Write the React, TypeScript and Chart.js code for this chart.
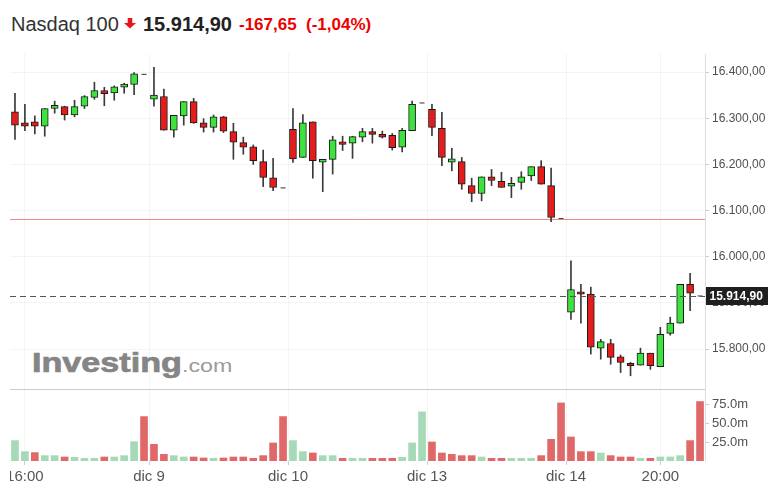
import React, { useEffect, useRef } from 'react';
import { Chart, registerables } from 'chart.js';

Chart.register(...registerables);

// ---- data (30-minute candles, index 0..69) ----
const opens = [16314, 16290, 16292, 16283, 16321, 16325, 16307, 16326, 16345, 16360, 16355, 16367, 16373, 16395,
  16341, 16347, 16274, 16305, 16336, 16290, 16280, 16303, 16271, 16247, 16238, 16206, 16171, 16149,
  16276, 16215, 16292, 16205, 16211, 16249, 16246, 16259, 16271, 16265, 16263, 16237, 16273, 16333,
  16319, 16278, 16205, 16206, 16154, 16137, 16173, 16163, 16153, 16161, 16175, 16195, 16154, 16082.55,
  15880, 15924, 15919, 15802, 15812, 15783, 15769, 15765, 15791, 15762, 15834, 15856, 15940, 15914.9];
const highs = [16354, 16330, 16305, 16321, 16337, 16326, 16339, 16349, 16378, 16367, 16370, 16376, 16399, 16395,
  16410, 16363, 16306, 16336, 16343, 16299, 16307, 16304, 16289, 16259, 16242, 16231, 16213, 16149,
  16321, 16308, 16292, 16211, 16261, 16261, 16261, 16278, 16278, 16272, 16267, 16278, 16337, 16333,
  16330, 16313, 16235, 16215, 16170, 16173, 16189, 16183, 16172, 16184, 16195, 16208, 16192, 16082.55,
  15991, 15940, 15934, 15821, 15821, 15787, 15771, 15802, 15791, 15847, 15869, 15940, 15964, 15914.9];
const lows = [16254, 16273, 16266, 16261, 16311, 16296, 16303, 16321, 16341, 16327, 16339, 16354, 16351, 16395,
  16326, 16274, 16259, 16285, 16289, 16270, 16270, 16269, 16211, 16222, 16200, 16152, 16143, 16149,
  16204, 16215, 16170, 16141, 16179, 16230, 16213, 16249, 16246, 16257, 16231, 16227, 16273, 16333,
  16262, 16197, 16186, 16146, 16119, 16121, 16154, 16150, 16128, 16146, 16165, 16157, 16076, 16082.55,
  15864, 15856, 15789, 15778, 15767, 15749, 15742, 15765, 15756, 15762, 15830, 15856, 15883, 15914.9];
const closes = [16285, 16283, 16283, 16321, 16328, 16307, 16325, 16347, 16360, 16353, 16368, 16374, 16396, 16395,
  16350, 16274, 16306, 16336, 16290, 16280, 16303, 16272, 16248, 16237, 16208, 16172, 16150, 16149,
  16212, 16290, 16208, 16211, 16253, 16243, 16260, 16271, 16265, 16259, 16236, 16274, 16330, 16333,
  16280, 16215, 16212, 16157, 16137, 16173, 16165, 16150, 16159, 16173, 16195, 16157, 16085, 16082.55,
  15929, 15919, 15804, 15816, 15782, 15771, 15764, 15791, 15764, 15832, 15856, 15940, 15921, 15914.9];
// volume in millions
const volumes = [27.0, 12.4, 11.1, 7.1, 7.1, 5.3, 4.9, 3.5, 3.5, 5.3, 5.3, 7.1, 25.6, 58.8,
  22.1, 8.8, 7.1, 5.3, 5.3, 4.0, 3.5, 4.0, 5.3, 5.3, 3.5, 7.1, 23.9, 58.8,
  27.0, 12.4, 10.6, 7.1, 7.1, 3.5, 3.5, 3.5, 3.5, 3.5, 3.5, 4.9, 23.9, 65.0,
  25.2, 10.6, 8.8, 7.1, 7.1, 5.3, 3.5, 3.5, 3.5, 3.5, 3.5, 7.1, 28.7, 76.9,
  31.8, 12.4, 12.4, 10.6, 7.1, 5.3, 5.3, 3.5, 3.5, 5.3, 5.3, 7.1, 27.0, 78.7];
const volumeUp = [1, 1, 0, 1, 1, 0, 1, 1, 1, 0, 1, 1, 1, 0,
  0, 0, 1, 1, 0, 0, 1, 0, 0, 0, 0, 0, 0, 0,
  1, 1, 0, 1, 1, 0, 1, 1, 0, 0, 0, 1, 1, 1,
  0, 0, 0, 0, 0, 1, 0, 0, 1, 1, 1, 0, 0, 0,
  0, 0, 0, 1, 0, 0, 0, 1, 0, 1, 1, 1, 0, 0];
const timeTickIndex = [1, 13.5, 27.5, 41.5, 55.5, 65];
const timeTickLabels = ['16:00', 'dic 9', 'dic 10', 'dic 13', 'dic 14', '20:00'];
const priceTicks = [15800, 15900, 16000, 16100, 16200, 16300, 16400];
const volumeTicks = [25, 50, 75];
const instrument = 'Nasdaq 100';
const lastPrice = 15914.9;
const prevClose = 16082.55;

const FONT = "'Liberation Sans', Arial, Helvetica, sans-serif";
const RED = '#e41c1c';
const GREEN = '#3ee23e';
const VOL_RED = '#e06868';
const VOL_GREEN = '#a5d9b7';
const FAINT = 'rgba(0,0,0,0.045)';

function fmtNum(v: number, d: number) {
  const neg = v < 0;
  const s = Math.abs(v).toFixed(d);
  const [int, dec] = s.split('.');
  const dotted = int.replace(/\B(?=(\d{3})+(?!\d))/g, '.');
  return (neg ? '-' : '') + dotted + (dec ? ',' + dec : '');
}

const N = closes.length;
const isDash = (i: number) => opens[i] === closes[i] && highs[i] === lows[i];

export default function App() {
  const priceRef = useRef<HTMLCanvasElement | null>(null);
  const volRef = useRef<HTMLCanvasElement | null>(null);

  useEffect(() => {
    Chart.defaults.font.family = FONT;
    const xCommon = {
      type: 'linear' as const,
      min: -0.5,
      max: N - 0.5,
      offset: false,
      afterBuildTicks: (s: any) => { s.ticks = timeTickIndex.map((v) => ({ value: v })); },
    };

    const overlay = {
      id: 'overlay',
      beforeDatasetsDraw(chart: any) {
        const { ctx, chartArea, scales } = chart;
        const y = Math.round(scales.y.getPixelForValue(prevClose)) + 0.5;
        ctx.save();
        ctx.strokeStyle = '#f08a8a';
        ctx.lineWidth = 1;
        ctx.beginPath();
        ctx.moveTo(chartArea.left, y);
        ctx.lineTo(chartArea.right, y);
        ctx.stroke();
        ctx.restore();
      },
      afterDatasetsDraw(chart: any) {
        const { ctx, chartArea, scales } = chart;
        const y = Math.round(scales.y.getPixelForValue(lastPrice)) + 0.5;
        ctx.save();
        ctx.strokeStyle = '#555';
        ctx.lineWidth = 1;
        ctx.setLineDash([6, 4]);
        ctx.beginPath();
        ctx.moveTo(chartArea.left, y);
        ctx.lineTo(chartArea.right, y);
        ctx.stroke();
        ctx.restore();
      },
      afterDraw(chart: any) {
        const { ctx, chartArea, scales } = chart;
        const y = Math.round(scales.y.getPixelForValue(lastPrice));
        ctx.save();
        ctx.fillStyle = '#1f1f1f';
        ctx.fillRect(chartArea.right + 1, y - 9, 62, 18);
        ctx.fillStyle = '#fff';
        ctx.font = `bold 12px ${FONT}`;
        ctx.textBaseline = 'middle';
        ctx.textAlign = 'left';
        ctx.fillText(fmtNum(lastPrice, 2), chartArea.right + 4.5, y + 0.5);
        ctx.restore();
      },
    };

    const bodies = opens.map((o, i) => ({ x: i, y: isDash(i) ? null : [o, closes[i]] }));
    const wicks = lows.map((l, i) => ({ x: i, y: isDash(i) ? null : [l, highs[i]] }));
    const dashes = closes.map((c, i) => ({ x: i, y: isDash(i) ? c : null }));

    const price = new Chart(priceRef.current as HTMLCanvasElement, {
      type: 'bar',
      data: {
        datasets: [
          {
            type: 'bar',
            data: bodies as any,
            backgroundColor: opens.map((o, i) => (closes[i] >= o ? GREEN : RED)),
            borderColor: '#1a1a1a',
            borderWidth: 1,
            borderSkipped: false,
            barThickness: 7,
            grouped: false,
            order: 0,
          } as any,
          {
            type: 'bar',
            data: wicks as any,
            backgroundColor: '#3a3a3a',
            borderWidth: 0,
            barThickness: 1,
            grouped: false,
            order: 1,
          } as any,
          {
            type: 'line',
            data: dashes as any,
            showLine: false,
            pointStyle: 'line',
            pointRadius: 2.5,
            pointHoverRadius: 2.5,
            pointBorderColor: '#333',
            pointBorderWidth: 1,
            order: 2,
          } as any,
        ],
      },
      options: {
        responsive: false,
        animation: false,
        events: [],
        layout: { padding: 0, autoPadding: false },
        plugins: { legend: { display: false }, tooltip: { enabled: false } },
        scales: {
          x: {
            ...xCommon,
            ticks: { display: false },
            grid: { color: FAINT, drawTicks: false, offset: false },
            border: { display: true, color: '#cccccc' },
            afterFit: (s: any) => { s.height = 1; s.paddingLeft = 0; s.paddingRight = 0; },
          } as any,
          y: {
            position: 'right',
            min: 15713.4,
            max: 16439.1,
            afterBuildTicks: (s: any) => { s.ticks = priceTicks.map((v) => ({ value: v })); },
            ticks: {
              callback: (v: any) => fmtNum(Number(v), 2),
              font: { size: 12, family: FONT },
              color: '#505050',
              padding: 3,
            },
            grid: { color: FAINT, tickColor: '#cccccc', tickLength: 4 },
            border: { display: true, color: '#dddddd' },
            afterFit: (s: any) => { s.width = 77; s.paddingTop = 0; s.paddingBottom = 0; },
          } as any,
        },
      },
      plugins: [overlay],
    });

    const vol = new Chart(volRef.current as HTMLCanvasElement, {
      type: 'bar',
      data: {
        datasets: [
          {
            data: volumes.map((v, i) => ({ x: i, y: v })) as any,
            backgroundColor: volumeUp.map((u) => (u ? VOL_GREEN : VOL_RED)),
            borderWidth: 0,
            barThickness: 7,
          },
        ],
      },
      options: {
        responsive: false,
        animation: false,
        events: [],
        layout: { padding: 0, autoPadding: false },
        plugins: { legend: { display: false }, tooltip: { enabled: false } },
        scales: {
          x: {
            ...xCommon,
            ticks: {
              autoSkip: false,
              maxRotation: 0,
              callback: (_v: any, i: number) => timeTickLabels[i],
              font: { size: 15, family: FONT },
              color: '#555555',
              padding: 3,
            },
            grid: { color: FAINT, tickColor: '#cccccc', tickLength: 4, offset: false },
            border: { display: false },
            afterFit: (s: any) => { s.height = 38; s.paddingLeft = 0; s.paddingRight = 0; },
          } as any,
          y: {
            position: 'right',
            min: 0,
            max: 94,
            afterBuildTicks: (s: any) => { s.ticks = volumeTicks.map((v) => ({ value: v })); },
            ticks: {
              callback: (v: any) => Number(v).toFixed(1) + 'm',
              font: { size: 13, family: FONT },
              color: '#505050',
              padding: 3,
            },
            grid: { color: 'rgba(0,0,0,0)', tickColor: '#cccccc', tickLength: 4 },
            border: { display: true, color: '#dddddd' },
            afterFit: (s: any) => { s.width = 77; s.paddingTop = 0; s.paddingBottom = 0; },
          } as any,
        },
      },
    });

    return () => {
      price.destroy();
      vol.destroy();
    };
  }, []);

  const change = lastPrice - prevClose;
  const pct = (change / prevClose) * 100;
  const abs = (l: number, t: number): React.CSSProperties => ({ position: 'absolute', left: l, top: t, whiteSpace: 'nowrap', fontFamily: FONT });

  return (
    <>
      <span style={{ ...abs(11, 13.8), fontSize: 20, lineHeight: '20px', color: '#333' }}>{instrument}</span>
      <svg style={{ position: 'absolute', left: 124, top: 18 }} width="12" height="11" viewBox="0 0 12 11">
        <path d="M3.7 0 H8.3 V5 H12 L6 10.6 L0 5 H3.7 Z" fill="#e8141a" />
      </svg>
      <span style={{ ...abs(143, 13.8), fontSize: 20, lineHeight: '20px', fontWeight: 'bold', color: '#222' }}>{fmtNum(lastPrice, 2)}</span>
      <span style={{ ...abs(239, 16.3), fontSize: 17, lineHeight: '17px', fontWeight: 'bold', color: '#e00' }}>{fmtNum(change, 2)}</span>
      <span style={{ ...abs(306, 16.3), fontSize: 17, lineHeight: '17px', fontWeight: 'bold', color: '#e00' }}>({fmtNum(pct, 2)}%)</span>
      <div style={{ ...abs(31.5, 348.6), fontSize: 28, lineHeight: '28px', transform: 'scaleX(1.22)', transformOrigin: 'left center' }}>
        <span style={{ fontWeight: 'bold', color: '#858585', WebkitTextStroke: '0.7px #858585' }}>Investing</span>
        <span style={{ fontSize: 19, color: '#9a9a9a' }}>.com</span>
      </div>
      <canvas ref={priceRef} width={772} height={336} style={{ position: 'absolute', left: 10, top: 54, width: 772, height: 336 }} />
      <canvas ref={volRef} width={772} height={109} style={{ position: 'absolute', left: 10, top: 390, width: 772, height: 109 }} />
    </>
  );
}
